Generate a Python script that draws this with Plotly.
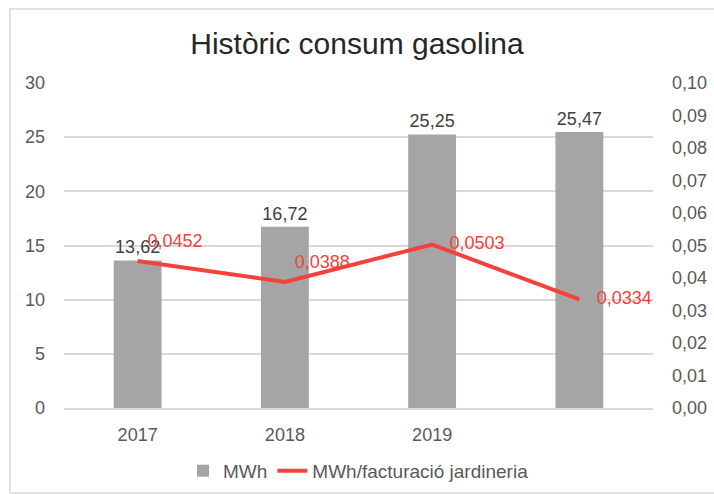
import plotly.graph_objects as go

categories = ["2017", "2018", "2019", " "]
mwh = [13.62, 16.72, 25.25, 25.47]
ratio = [0.0452, 0.0388, 0.0503, 0.0334]
bar_labels = ["13,62", "16,72", "25,25", "25,47"]
ratio_labels = ["0,0452", "0,0388", "0,0503", "0,0334"]
ratio_text_pos = ["top right", "top right", "middle right", "middle right"]
label_pad = [14, 14, 26, 26]

font_family = "Liberation Sans, Arial, sans-serif"
fs = 18

fig = go.Figure()
fig.add_trace(go.Bar(
    x=categories, y=mwh, name="MWh",
    marker=dict(color="#a5a5a5", line=dict(width=0)),
    text=bar_labels, textposition="outside", cliponaxis=False,
    textfont=dict(color="#404040", size=fs, family=font_family),
))
fig.add_trace(go.Scatter(
    x=categories, y=ratio, name="MWh/facturació jardineria", yaxis="y2",
    mode="lines+markers+text", line=dict(color="#f5413a", width=4),
    marker=dict(size=label_pad, color="rgba(0,0,0,0)", line=dict(width=0)),
    text=ratio_labels, textposition=ratio_text_pos, cliponaxis=False,
    textfont=dict(color="#f5413a", size=fs, family=font_family),
))

fig.update_layout(
    width=714, height=494,
    margin=dict(l=64, r=61, t=83, b=86, autoexpand=False),
    paper_bgcolor="white", plot_bgcolor="white",
    separators=",.",
    font=dict(family=font_family, color="#595959", size=fs),
    title=dict(text="Històric consum gasolina", x=0.5, xanchor="center",
               y=0.911, yanchor="middle",
               font=dict(size=30, color="#262626", family=font_family)),
    bargap=0.675,
    showlegend=True,
    legend=dict(orientation="h", x=0.5, xanchor="center", y=-0.135, yanchor="top",
                font=dict(size=19, color="#595959"), traceorder="normal"),
    xaxis=dict(type="category", showgrid=False, showline=True,
               linecolor="#d9d9d9", linewidth=1.5, ticks="",
               tickfont=dict(size=fs, color="#595959"), ticklabelstandoff=10),
    yaxis=dict(range=[0, 30], dtick=5, showgrid=True, gridcolor="#d9d9d9",
               gridwidth=1.5, zeroline=False, showline=False, ticks="",
               tickfont=dict(size=fs, color="#595959"), ticklabelstandoff=18),
    yaxis2=dict(range=[0, 0.1], dtick=0.01, tickformat=".2f", overlaying="y",
                side="right", showgrid=False, zeroline=False, showline=False,
                ticks="", tickfont=dict(size=fs, color="#595959"),
                ticklabelstandoff=18),
    shapes=[dict(type="rect", xref="paper", yref="paper",
                 x0=-0.0917, x1=1.15, y0=-0.2615, y1=1.2277,
                 line=dict(color="#d9d9d9", width=1.5), fillcolor="rgba(0,0,0,0)",
                 layer="below")],
)

fig.write_html("out.html", config={"displayModeBar": False},
               post_script="document.body.style.margin='0';document.body.style.padding='0';")
